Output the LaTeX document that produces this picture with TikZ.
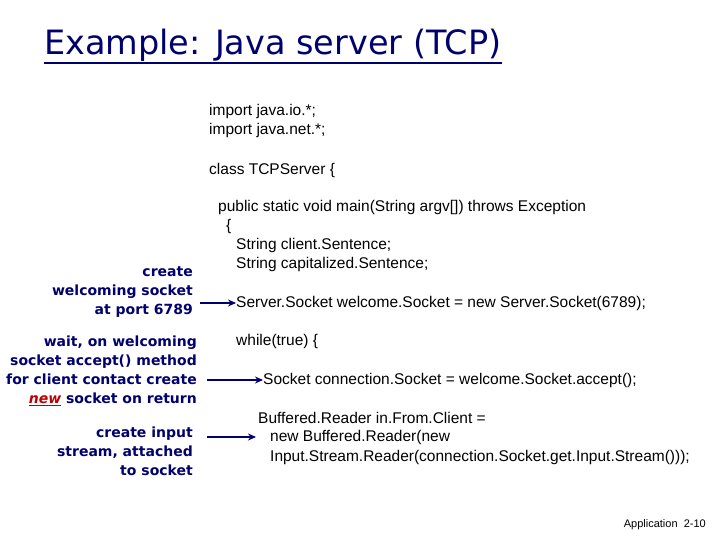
\documentclass[tikz,border=0pt]{standalone}
\usepackage{fontspec}
\setmainfont{Liberation Sans}
\newfontfamily\notefont{DejaVu Sans}
\usetikzlibrary{arrows.meta}
\definecolor{navy}{RGB}{0,0,110}
\tikzset{
  code/.style={anchor=west, inner sep=0pt, font=\fontsize{15.5}{19}\selectfont},
  note/.style={anchor=east, inner sep=0pt, align=right, text=navy,
    font=\notefont\bfseries\fontsize{14}{19}\selectfont},
  pointer/.style={-{Stealth[length=8pt,width=7pt]}, line width=2.5pt, draw=navy}
}
\begin{document}
\begin{tikzpicture}[x=1pt,y=-1pt]
        \useasboundingbox (0,0) rectangle (720,540);

        \node[anchor=west, inner sep=0pt, text=navy, font=\notefont\fontsize{33.5}{36}\selectfont] at (44,45) (title) {Example: Java server (TCP)};
        \draw[navy, line width=1.5pt] (title.west |- 0,63) -- (title.east |- 0,63);

        \node[code] at (209,111) (imp1) {import java.io.*;};
        \node[code] at (209,130) (imp2) {import java.net.*;};
        \node[code] at (209,170) (cls) {class TCPServer \{};
        \node[code] at (218,207) (main) {public static void main(String argv[]) throws Exception};
        \node[code] at (226,226) (brace) {\{};
        \node[code] at (236,245) (str1) {String client.Sentence;};
        \node[code] at (236,264) (str2) {String capitalized.Sentence;};
        \node[code] at (236,303) (welcome) {Server.Socket welcome.Socket = new Server.Socket(6789);};
        \node[code] at (236,341) (loop) {while(true) \{};
        \node[code] at (263,380) (accept) {Socket connection.Socket = welcome.Socket.accept();};
        \node[code] at (258,418) (buf1) {Buffered.Reader in.From.Client =};
        \node[code] at (270,437) (buf2) {new Buffered.Reader(new};
        \node[code] at (270,457) (buf3) {Input.Stream.Reader(connection.Socket.get.Input.Stream()));};

        \node[note] at (193,292) (n1) {create\\welcoming socket\\at port 6789};
        \node[note] at (197,371) (n2) {wait, on welcoming\\socket accept() method\\for client contact create\\{\color{red!75!black}\underline{\itshape new}} socket on return};
        \node[note] at (193,451) (n3) {create input\\stream, attached\\to socket};

        \draw[pointer] (n1.east |- welcome.west) ++(7,0) -- (welcome.west);
        \draw[pointer] (n2.east |- accept.west) ++(10,0) -- (accept.west);
        \draw[pointer] (n3.east |- buf2.west) ++(14,0) -- ([xshift=-14pt]buf2.west);

        \node[anchor=east, inner sep=0pt, font=\fontsize{11}{13}\selectfont] at (706,525) (foot) {Application\ \ 2-10};
\end{tikzpicture}
\end{document}
